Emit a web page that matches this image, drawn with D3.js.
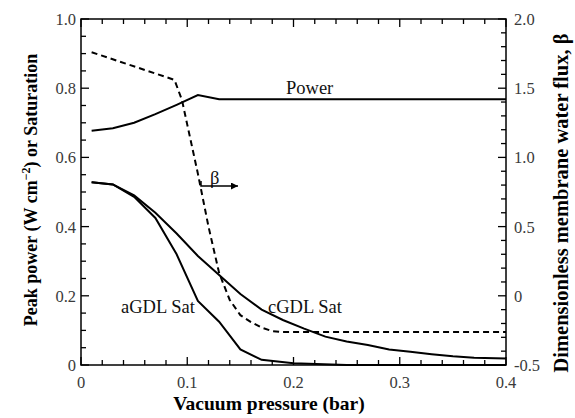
<!DOCTYPE html>
<html><head><meta charset="utf-8">
<script src="https://cdn.jsdelivr.net/npm/d3@7"></script>
<style>body{margin:0;background:#fff}svg{display:block}</style>
</head><body>
<svg id="c" width="575" height="418"></svg>
<script>
const pressure = [0.01,0.03,0.05,0.07,0.09,0.11,0.13,0.15,0.17,0.19,0.21,0.23,0.25,0.27,0.29,0.31,0.33,0.35,0.37,0.40];
const powerX = [0.01,0.03,0.05,0.07,0.09,0.11,0.13,0.20,0.30,0.40];
const powerY = [0.677,0.684,0.70,0.725,0.752,0.780,0.768,0.768,0.768,0.768];
const cgdlSat = [0.528,0.522,0.49,0.44,0.38,0.315,0.26,0.205,0.16,0.13,0.105,0.082,0.068,0.058,0.045,0.038,0.031,0.025,0.021,0.019];
const agdlX = [0.01,0.03,0.05,0.07,0.09,0.11,0.13,0.15,0.17,0.20,0.25,0.30,0.40];
const agdlSat = [0.528,0.522,0.486,0.425,0.32,0.185,0.125,0.045,0.015,0.005,0.0,0.0,0.0];
const betaX = [0.01,0.088,0.095,0.10,0.11,0.12,0.13,0.14,0.15,0.16,0.17,0.18,0.19,0.25,0.40];
const betaY = [1.76,1.56,1.415,1.237,0.883,0.50,0.165,-0.03,-0.14,-0.19,-0.23,-0.255,-0.262,-0.262,-0.262];
const xTicks = [0,0.1,0.2,0.3,0.4];
const xTickLabels = ["0","0.1","0.2","0.3","0.4"];
const yLeftTicks = [0,0.2,0.4,0.6,0.8,1.0];
const yLeftLabels = ["0","0.2","0.4","0.6","0.8","1.0"];
const yRightTicks = [-0.5,0,0.5,1.0,1.5,2.0];
const yRightLabels = ["-0.5","0","0.5","1.0","1.5","2.0"];

const L=81,R=506,T=19,B=365;
const svg=d3.select("#c");
const x=d3.scaleLinear().domain([0,0.4]).range([L,R]);
const yl=d3.scaleLinear().domain([0,1]).range([B,T]);
const yr=d3.scaleLinear().domain([-0.5,2]).range([B,T]);
const font="'Liberation Serif', 'Times New Roman', serif";
const tcol="#3a3a3a";

svg.append("rect").attr("x",L).attr("y",T).attr("width",R-L).attr("height",B-T)
  .attr("fill","none").attr("stroke","#000").attr("stroke-width",1.5);

const g=svg.append("g");
d3.range(0,0.4001,0.02).forEach(v=>{
  const major=Math.abs(v*10-Math.round(v*10))<1e-6;
  const len=major?8:5;
  g.append("line").attr("x1",x(v)).attr("x2",x(v)).attr("y1",B).attr("y2",B-len).attr("stroke","#000").attr("stroke-width",1.3);
  g.append("line").attr("x1",x(v)).attr("x2",x(v)).attr("y1",T).attr("y2",T+len).attr("stroke","#000").attr("stroke-width",1.3);
});
d3.range(0,1.0001,0.05).forEach(v=>{
  const major=Math.abs(v*5-Math.round(v*5))<1e-6;
  const len=major?8:5;
  g.append("line").attr("x1",L).attr("x2",L+len).attr("y1",yl(v)).attr("y2",yl(v)).attr("stroke","#000").attr("stroke-width",1.3);
});
d3.range(-0.5,2.0001,0.1).forEach(v=>{
  const major=Math.abs(v*2-Math.round(v*2))<1e-6;
  const len=major?8:5;
  g.append("line").attr("x1",R).attr("x2",R-len).attr("y1",yr(v)).attr("y2",yr(v)).attr("stroke","#000").attr("stroke-width",1.3);
});
xTicks.forEach((v,i)=>svg.append("text").attr("x",x(v)).attr("y",388).attr("text-anchor","middle")
  .attr("font-family",font).attr("font-size",16.5).attr("fill",tcol).text(xTickLabels[i]));
yLeftTicks.forEach((v,i)=>svg.append("text").attr("x",76).attr("y",yl(v)+6).attr("text-anchor","end")
  .attr("font-family",font).attr("font-size",16.5).attr("fill",tcol).text(yLeftLabels[i]));
yRightTicks.forEach((v,i)=>svg.append("text").attr("x",514).attr("y",yr(v)+6).attr("text-anchor","start")
  .attr("font-family",font).attr("font-size",16.5).attr("fill",tcol).text(yRightLabels[i]));

svg.append("text").attr("x",269).attr("y",410).attr("text-anchor","middle").attr("font-family",font)
  .attr("font-weight","bold").attr("font-size",19.5).text("Vacuum pressure (bar)");
const lt=svg.append("text").attr("transform","translate(37,190) rotate(-90)").attr("text-anchor","middle")
  .attr("font-family",font).attr("font-weight","bold").attr("font-size",18);
lt.append("tspan").text("Peak power (W cm");
lt.append("tspan").attr("dy",-7).attr("font-size",12).text("−2");
lt.append("tspan").attr("dy",7).text(") or Saturation");
svg.append("text").attr("transform","translate(568,203) rotate(-90)").attr("text-anchor","middle")
  .attr("font-family",font).attr("font-weight","bold").attr("font-size",20.5).text("Dimensionless membrane water flux, β");

const lineL=d3.line().x(d=>x(d[0])).y(d=>yl(d[1]));
const lineR=d3.line().x(d=>x(d[0])).y(d=>yr(d[1]));
svg.append("path").attr("d",lineL(powerX.map((v,i)=>[v,powerY[i]]))).attr("fill","none").attr("stroke","#000").attr("stroke-width",2);
svg.append("path").attr("d",lineL(pressure.map((v,i)=>[v,cgdlSat[i]]))).attr("fill","none").attr("stroke","#000").attr("stroke-width",2);
svg.append("path").attr("d",lineL(agdlX.map((v,i)=>[v,agdlSat[i]]))).attr("fill","none").attr("stroke","#000").attr("stroke-width",2);
svg.append("path").attr("d",lineR(betaX.map((v,i)=>[v,betaY[i]]))).attr("fill","none").attr("stroke","#000")
  .attr("stroke-width",2).attr("stroke-dasharray","6,4");

const ann=(t,xx,yy)=>svg.append("text").attr("x",xx).attr("y",yy).attr("font-family",font).attr("font-size",18.5).attr("fill","#111").text(t);
ann("Power",286,94);
ann("aGDL Sat",121,313);
ann("cGDL Sat",268,313);
ann("β",210,184);
svg.append("defs").append("marker").attr("id","ah").attr("viewBox","0 0 10 10").attr("refX",10).attr("refY",5)
  .attr("markerWidth",12).attr("markerHeight",7).attr("markerUnits","userSpaceOnUse").attr("orient","auto")
  .append("path").attr("d","M0,0L10,5L0,10z").attr("fill","#000");
svg.append("path").attr("d","M201,181L201,186L238,186").attr("fill","none").attr("stroke","#000").attr("stroke-width",1.5).attr("marker-end","url(#ah)");
</script>
</body></html>
